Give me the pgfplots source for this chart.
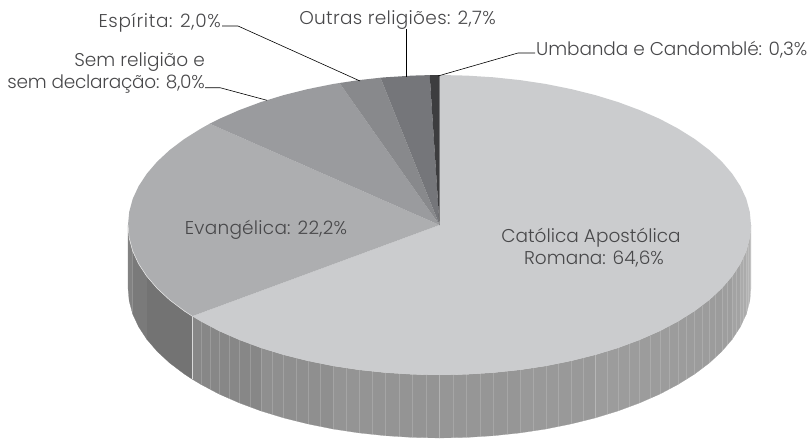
\documentclass[border=0pt]{standalone}
\usepackage{pgfplots}
\usepackage{fontspec}
\pgfplotsset{compat=1.18}
\setmainfont{Poppins}[UprightFont=* Light]
\definecolor{txt}{HTML}{48484A}
\definecolor{topA}{HTML}{CBCCCE}
\definecolor{topB}{HTML}{ADAEB0}
\definecolor{topC}{HTML}{9A9B9E}
\definecolor{topD}{HTML}{88898C}
\definecolor{topE}{HTML}{75767A}
\definecolor{topF}{HTML}{3D3D3F}
\tikzset{lab/.style={text=txt,font=\fontsize{18.5}{22}\selectfont,inner sep=0pt}}
\newcommand\ls[2]{{\addfontfeature{LetterSpace=#1}#2}}
\begin{document}
\begin{tikzpicture}
\begin{axis}[scale only axis,width=812pt,height=439pt,xmin=0,xmax=812,ymin=0,ymax=439,y dir=reverse,
  hide axis,clip=false,unbounded coords=jump]
\path (axis cs:0,0) rectangle (axis cs:812,439);
% side: Catolica
\addplot[fill=black!28,draw=black!28,line width=.2pt] coordinates {(751,225)(749.8,238.1)(749.8,301.1)(751,288)};
\addplot[fill=black!30,draw=black!30,line width=.2pt] coordinates {(749.8,238.1)(746.3,251.1)(746.3,314.1)(749.8,301.1)};
\addplot[fill=black!33,draw=black!33,line width=.2pt] coordinates {(746.3,251.1)(740.4,263.8)(740.4,326.8)(746.3,314.1)};
\addplot[fill=black!36,draw=black!36,line width=.2pt] coordinates {(740.4,263.8)(732.2,276.3)(732.2,339.3)(740.4,326.8)};
\addplot[fill=black!38,draw=black!38,line width=.2pt] coordinates {(732.2,276.3)(721.8,288.4)(721.8,351.4)(732.2,339.3)};
\addplot[fill=black!39,draw=black!39,line width=.2pt] coordinates {(721.8,288.4)(709.3,300)(694.7,311)(678.1,321.4)(659.8,331.1)(639.7,339.9)(618.2,347.9)(595.3,354.9)(595.3,417.9)(618.2,410.9)(639.7,402.9)(659.8,394.1)(678.1,384.4)(694.7,374)(709.3,363)(721.8,351.4)};
\addplot[fill=black!40,draw=black!40,line width=.2pt] coordinates {(595.3,354.9)(571.2,360.9)(546,366)(520.1,369.9)(520.1,432.9)(546,429)(571.2,423.9)(595.3,417.9)};
\addplot[fill=black!41,draw=black!41,line width=.2pt] coordinates {(520.1,369.9)(493.6,372.7)(466.7,374.4)(439.5,375)(439.5,438)(466.7,437.4)(493.6,435.7)(520.1,432.9)};
\addplot[fill=black!42,draw=black!42,line width=.2pt] coordinates {(439.5,375)(412.3,374.4)(385.4,372.7)(358.9,369.9)(333,366)(333,429)(358.9,432.9)(385.4,435.7)(412.3,437.4)(439.5,438)};
\addplot[fill=black!44,draw=black!44,line width=.2pt] coordinates {(333,366)(307.8,360.9)(283.7,354.9)(260.8,347.9)(260.8,410.9)(283.7,417.9)(307.8,423.9)(333,429)};
\addplot[fill=black!47,draw=black!47,line width=.2pt] coordinates {(260.8,347.9)(239.3,339.9)(219.2,331.1)(200.9,321.4)(192.2,316.2)(192.2,379.2)(200.9,384.4)(219.2,394.1)(239.3,402.9)(260.8,410.9)};
% side: Evangelica
\addplot[fill=black!55,draw=black!55,line width=.2pt] coordinates {(192.2,316.2)(184.3,311)(169.7,300)(157.2,288.4)(146.8,276.3)(146.8,339.3)(157.2,351.4)(169.7,363)(184.3,374)(192.2,379.2)};
\addplot[fill=black!52,draw=black!52,line width=.2pt] coordinates {(146.8,276.3)(138.6,263.8)(132.7,251.1)(132.7,314.1)(138.6,326.8)(146.8,339.3)};
\addplot[fill=black!49,draw=black!49,line width=.2pt] coordinates {(132.7,251.1)(129.2,238.1)(128,225)(128,288)(129.2,301.1)(132.7,314.1)};
% stripes on the side
\addplot[draw=white,draw opacity=.16,line width=.45pt] coordinates {
(750.4,231.6)(750.4,294.6)(750.4,nan)(748,244.6)(748,307.6)(748,nan)(743.4,257.5)(743.4,320.5)(743.4,nan)
(736.3,270)(736.3,333)(736.3,nan)(732.2,276.3)(732.2,339.3)(732.2,nan)(727,282.4)(727,345.4)(727,nan)
(721.8,288.4)(721.8,351.4)(721.8,nan)(715.6,294.2)(715.6,357.2)(715.6,nan)(709.3,300)(709.3,363)(709.3,nan)
(702,305.5)(702,368.5)(702,nan)(694.7,311)(694.7,374)(694.7,nan)(686.4,316.2)(686.4,379.2)(686.4,nan)
(678.1,321.4)(678.1,384.4)(678.1,nan)(669,326.3)(669,389.3)(669,nan)(659.8,331.1)(659.8,394.1)(659.8,nan)
(649.8,335.5)(649.8,398.5)(649.8,nan)(639.7,339.9)(639.7,402.9)(639.7,nan)(629,343.9)(629,406.9)(629,nan)
(618.2,347.9)(618.2,410.9)(618.2,nan)(606.8,351.4)(606.8,414.4)(606.8,nan)(595.3,354.9)(595.3,417.9)(595.3,nan)
(583.3,357.9)(583.3,420.9)(583.3,nan)(571.2,360.9)(571.2,423.9)(571.2,nan)(558.6,363.5)(558.6,426.5)(558.6,nan)
(546,366)(546,429)(546,nan)(533,368)(533,431)(533,nan)(520.1,369.9)(520.1,432.9)(520.1,nan)
(506.9,371.3)(506.9,434.3)(506.9,nan)(493.6,372.7)(493.6,435.7)(493.6,nan)(480.2,373.6)(480.2,436.6)(480.2,nan)
(466.7,374.4)(466.7,437.4)(466.7,nan)(453.1,374.7)(453.1,437.7)(453.1,nan)(439.5,375)(439.5,438)(439.5,nan)
(425.9,374.7)(425.9,437.7)(425.9,nan)(412.3,374.4)(412.3,437.4)(412.3,nan)(398.9,373.6)(398.9,436.6)(398.9,nan)
(385.4,372.7)(385.4,435.7)(385.4,nan)(372.2,371.3)(372.2,434.3)(372.2,nan)(358.9,369.9)(358.9,432.9)(358.9,nan)
(346,368)(346,431)(346,nan)(333,366)(333,429)(333,nan)(320.4,363.5)(320.4,426.5)(320.4,nan)
(307.8,360.9)(307.8,423.9)(307.8,nan)(295.8,357.9)(295.8,420.9)(295.8,nan)(283.7,354.9)(283.7,417.9)(283.7,nan)
(272.3,351.4)(272.3,414.4)(272.3,nan)(260.8,347.9)(260.8,410.9)(260.8,nan)(250,343.9)(250,406.9)(250,nan)
(239.3,339.9)(239.3,402.9)(239.3,nan)(229.3,335.5)(229.3,398.5)(229.3,nan)(219.2,331.1)(219.2,394.1)(219.2,nan)
(210,326.3)(210,389.3)(210,nan)(200.9,321.4)(200.9,384.4)};
\addplot[draw=black!15,line width=.5pt] coordinates {(192.2,316.2)(192.2,379.2)};
% top: Catolica
\addplot[fill=topA,draw=none] coordinates {(439.5,225)(439.5,75)(466.7,75.6)(493.6,77.3)(520.1,80.1)(546,84)(571.2,89.1)(595.3,95.1)(618.2,102.1)(639.7,110.1)(659.8,118.9)(678.1,128.6)(694.7,139)(709.3,150)(721.8,161.6)(732.2,173.7)(740.4,186.2)(746.3,198.9)(749.8,211.9)(751,225)(749.8,238.1)(746.3,251.1)(740.4,263.8)(732.2,276.3)(721.8,288.4)(709.3,300)(694.7,311)(678.1,321.4)(659.8,331.1)(639.7,339.9)(618.2,347.9)(595.3,354.9)(571.2,360.9)(546,366)(520.1,369.9)(493.6,372.7)(466.7,374.4)(439.5,375)(412.3,374.4)(385.4,372.7)(358.9,369.9)(333,366)(307.8,360.9)(283.7,354.9)(260.8,347.9)(239.3,339.9)(219.2,331.1)(200.9,321.4)(192.2,316.2)(439.5,225)};
% top: Evangelica
\addplot[fill=topB,draw=none] coordinates {(439.5,225)(192.2,316.2)(184.3,311)(169.7,300)(157.2,288.4)(146.8,276.3)(138.6,263.8)(132.7,251.1)(129.2,238.1)(128,225)(129.2,211.9)(132.7,198.9)(138.6,186.2)(146.8,173.7)(157.2,161.6)(169.7,150)(184.3,139)(200.9,128.6)(209.7,123.7)(439.5,225)};
% top: Sem religiao
\addplot[fill=topC,draw=none] coordinates {(439.5,225)(209.7,123.7)(219.2,118.9)(239.3,110.1)(260.8,102.1)(283.7,95.1)(307.8,89.1)(333,84)(339.5,83)(439.5,225)};
% top: Espirita
\addplot[fill=topD,draw=none] coordinates {(439.5,225)(339.5,83)(358.9,80.1)(380.5,77.7)(439.5,225)};
% top: Outras
\addplot[fill=topE,draw=none] coordinates {(439.5,225)(380.5,77.7)(385.4,77.3)(412.3,75.6)(429.7,75.1)(439.5,225)};
% top: Umbanda
\addplot[fill=topF,draw=none] coordinates {(439.5,225)(429.7,75.1)(439.5,75)(439.5,225)};
% light rim
\addplot[draw=black!8,line width=.5pt] coordinates {(192.2,316.2)(184.3,311)(169.7,300)(157.2,288.4)(146.8,276.3)(138.6,263.8)(132.7,251.1)(129.2,238.1)(128,225)};
% leaders
\addplot[draw=black,line width=.6pt] coordinates {(222,26)(238,26)(360,81)};
\addplot[draw=black,line width=.6pt] coordinates {(205,87.7)(220,87.7)(267,100.3)};
\addplot[draw=black,line width=.6pt] coordinates {(406.7,29)(406.7,76.5)};
\addplot[draw=black,line width=.6pt] coordinates {(535,53)(518,53)(438,76)};
% labels
\node[lab,anchor=east] at (axis cs:221,23) {\ls{3.5}{Espírita: 2,0\%}};
\node[lab,anchor=center] at (axis cs:397.5,20) {\ls{1.8}{Outras religiões: 2,7\%}};
\node[lab,anchor=west] at (axis cs:536,50) {\ls{-0.6}{Umbanda e Candomblé: 0,3\%}};
\node[lab,anchor=east] at (axis cs:205,62) {Sem religião e};
\node[lab,anchor=east] at (axis cs:205,84.5) {\ls{-1.3}{sem declaração: 8,0\%}};
\node[lab,anchor=center] at (axis cs:266,229.5) {\ls{1.3}{Evangélica: 22,2\%}};
\node[lab,anchor=center] at (axis cs:591,237.5) {Católica Apostólica};
\node[lab,anchor=center] at (axis cs:594,259) {Romana: 64,6\%};
\end{axis}
\end{tikzpicture}
\end{document}
